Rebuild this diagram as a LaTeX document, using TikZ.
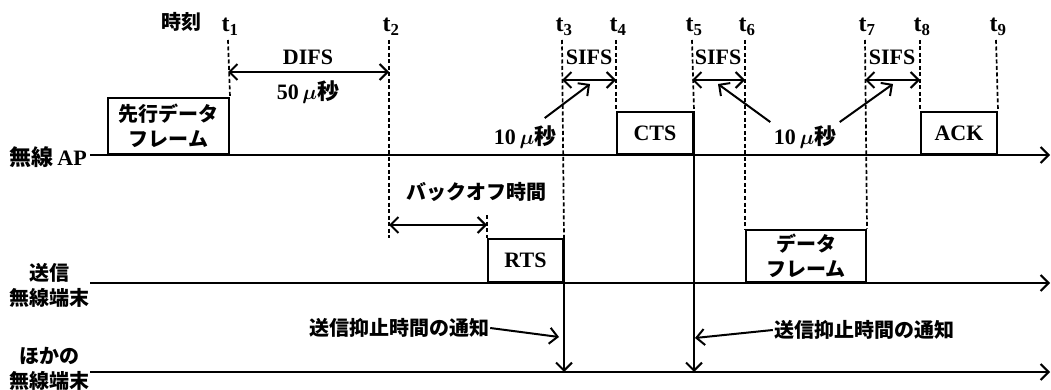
\documentclass[tikz,border=0pt]{standalone}
\usepackage{fontspec}
\usepackage{amsmath}
\setmainfont{Liberation Serif}
\newfontfamily\jp{Noto Sans CJK JP}
\usetikzlibrary{arrows.meta,calc}
\tikzset{
  lane/.style ={line width=2pt, -{Straight Barb[length=8pt,width=16pt]}},
  tick/.style ={line width=1.7pt, dash pattern=on 4pt off 2.5pt},
  frame/.style={draw, line width=2pt, inner sep=0pt, align=center, anchor=south west},
  span/.style ={line width=2pt, {Straight Barb[length=8pt,width=16pt]}-{Straight Barb[length=8pt,width=16pt]}},
  pnt/.style  ={line width=2pt, -{Straight Barb[length=8pt,width=16pt]}},
  tlab/.style ={inner sep=1pt, font=\bfseries\fontsize{24}{26}\selectfont},
  jtx/.style  ={font=\jp\bfseries\fontsize{20}{25}\selectfont, inner sep=1pt, align=center}
}
\newcommand{\usec}{$\boldsymbol{\mu}${\jp 秒}}

\begin{document}
\begin{tikzpicture}[x=1pt, y=-1pt, font=\bfseries\fontsize{22}{24}\selectfont]
  \useasboundingbox (0,0) rectangle (1051,390);

  % time marks
  \node[jtx](clock) at (181,22){時刻};
  \foreach \n/\x in {1/228,2/389,3/562,4/616,5/692,6/745,7/865,8/920,9/996}{
    \node[tlab](lt\n) at (\x+2,27){t\textsubscript{\n}};
    \coordinate (t\n) at (\x,40);
  }

  % lanes
  \coordinate (ap0) at (90,155);  \coordinate (ap1) at (1050,155);
  \coordinate (tx0) at (90,283);  \coordinate (tx1) at (1050,283);
  \coordinate (ot0) at (90,372);  \coordinate (ot1) at (1050,372);
  \node[anchor=east, inner sep=1pt](lap) at (88,157){{\jp 無線}\,AP};
  \node[jtx, anchor=east](ltx) at (91,285){送信\\無線端末};
  \node[jtx, anchor=east](lot) at (91,369){ほかの\\無線端末};
  \draw[lane](ap0)--(ap1);
  \draw[lane](tx0)--(tx1);
  \draw[lane](ot0)--(ot1);

  % frames
  \node[jtx, frame, minimum width=121pt, minimum height=56pt](prev) at (107,155){先行データ\\フレーム};
  \node[frame, minimum width=76pt, minimum height=42pt](cts) at (616,155){CTS};
  \node[frame, minimum width=76pt, minimum height=42pt](ack) at (920,155){ACK};
  \node[frame, minimum width=75pt, minimum height=43pt](rts) at (487,283){RTS};
  \node[jtx, frame, minimum width=120pt, minimum height=52pt](data) at (745,283){データ\\フレーム};

  \draw[tick](t1)--(prev.north east);
  \draw[tick](t2)--(t2 |- rts.north);
  \draw[tick](t3)--(rts.north east);
  \draw[tick](t4)--(cts.north west);\draw[tick](t5)--(cts.north east);
  \draw[tick](t6)--(data.north west);\draw[tick](t7)--(data.north east);
  \draw[tick](t8)--(ack.north west);\draw[tick](t9)--(ack.north east);
  \coordinate (bo) at (487,215);
  \draw[tick](bo)--(rts.north west);

  % intervals
  \coordinate (ydifs) at (0,72);
  \coordinate (ysifs) at (0,80);
  \coordinate (yback) at (0,225);
  \draw[span](t1 |- ydifs)--(t2 |- ydifs);
  \draw[span](t3 |- ysifs)--(t4 |- ysifs);
  \draw[span](t5 |- ysifs)--(t6 |- ysifs);
  \draw[span](t7 |- ysifs)--(t8 |- ysifs);
  \draw[span](t2 |- yback)--(bo |- yback);

  \node(difs) at (308,57){DIFS};
  \node(d50) at (308,92){50\,\usec};
  \node(s1) at (589,57){SIFS};
  \node(s2) at (718,57){SIFS};
  \node(s3) at (892,57){SIFS};
  \node[jtx](back) at (476,192){バックオフ時間};

  % 10 usec pointers
  \node(u1) at (525,137){10\,\usec};
  \node(u2) at (805,137){10\,\usec};
  \coordinate (m1) at (590,84);
  \coordinate (m2) at (718,84);
  \coordinate (m3) at (893,84);
  \draw[pnt]($(u1.north east)+(-15,-4)$)--(m1);
  \draw[pnt](u2.north west)--(m2);
  \draw[pnt](u2.north east)--(m3);

  % NAV notice
  \draw[lane](rts.north east)--(rts.north east |- ot0);
  \draw[lane](cts.north east)--(cts.north east |- ot0);
  \node[jtx](n1) at (399,328){送信抑止時間の通知};
  \node[jtx](n2) at (864,330){送信抑止時間の通知};
  \coordinate (h1) at (559,337);
  \coordinate (h2) at (695,338);
  \draw[pnt](n1.east)--(h1);
  \draw[pnt](n2.west)--(h2);
\end{tikzpicture}
\end{document}
